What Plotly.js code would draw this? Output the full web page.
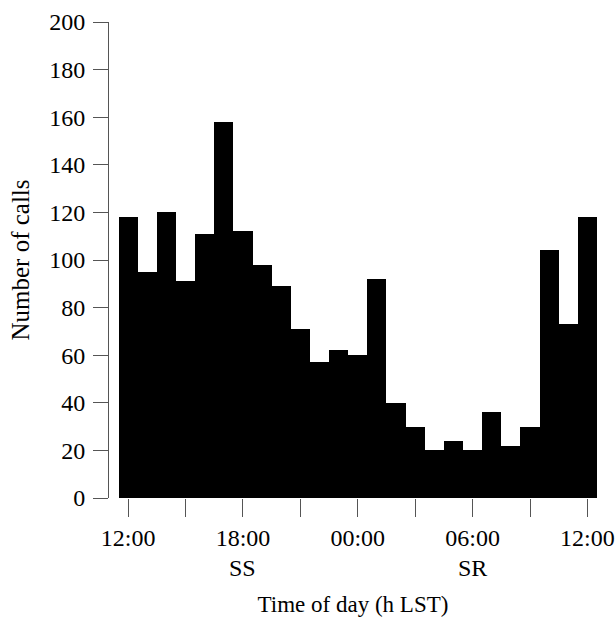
<!DOCTYPE html>
<html>
<head>
<meta charset="utf-8">
<script src="https://cdn.plot.ly/plotly-3.0.1.min.js"></script>
<style>
  html, body { margin: 0; padding: 0; background: #fff; }
  #chart { width: 615px; height: 617px; }
</style>
</head>
<body>
<div id="chart"></div>
<script>
// Hourly call counts, bins centred on the hour (12:00 day 1 .. 12:00 day 2)
const hours = [12, 13, 14, 15, 16, 17, 18, 19, 20, 21, 22, 23, 24,
               25, 26, 27, 28, 29, 30, 31, 32, 33, 34, 35, 36];
const calls = [118, 95, 120, 91, 111, 158, 112, 98, 89, 71, 57, 62, 60,
               92, 40, 30, 20, 24, 20, 36, 22, 30, 104, 73, 118];

const tickHours  = [12, 15, 18, 21, 24, 27, 30, 33, 36];
const tickLabels = ['12:00', '', '18:00', '', '00:00', '', '06:00', '', '12:00'];

const yTicks = [0, 20, 40, 60, 80, 100, 120, 140, 160, 180, 200];

// sunset / sunrise markers under the hour labels
const markHours  = [18, 30];
const markLabels = ['SS', 'SR'];

const serif = '"Liberation Serif", "Times New Roman", serif';
const font = { family: serif, size: 24, color: '#000' };

const traces = [{
    x: hours, y: calls,
    type: 'bar',
    marker: { color: '#000', line: { width: 0 } },
    hoverinfo: 'x+y'
}];

const layout = {
    width: 615, height: 617,
    margin: { l: 109, r: 18, t: 22, b: 119 },
    paper_bgcolor: '#fff', plot_bgcolor: '#fff',
    font: font,
    bargap: 0,
    showlegend: false,
    xaxis: {
        range: [11, 36.5],
        tickvals: tickHours, ticktext: tickLabels,
        ticks: 'outside', ticklen: 18, tickwidth: 1, tickcolor: '#555',
        tickfont: font,
        showline: false, showgrid: false, zeroline: false,
        title: { text: 'Time of day (h LST)', font: { family: serif, size: 23, color: '#000' }, standoff: 46 }
    },
    yaxis: {
        range: [0, 200],
        tickvals: yTicks,
        ticks: 'outside', ticklen: 15, tickwidth: 1, tickcolor: '#555',
        tickfont: font, ticklabelstandoff: 3,
        showline: true, linecolor: '#555', linewidth: 1,
        showgrid: false, zeroline: false,
        title: { text: 'Number of calls', font: { family: serif, size: 25, color: '#000' }, standoff: 12 }
    },
    annotations: markHours.map((hr, i) => ({
        x: hr, y: 0, xref: 'x', yref: 'paper',
        text: markLabels[i], showarrow: false,
        yanchor: 'middle', yshift: -70, font: font
    }))
};

Plotly.newPlot('chart', traces, layout, { displayModeBar: false, staticPlot: true });
</script>
</body>
</html>
